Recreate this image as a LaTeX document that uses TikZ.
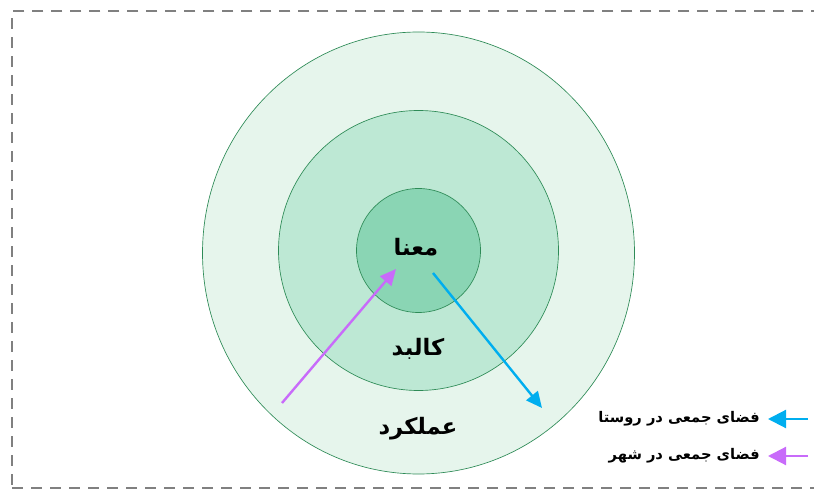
\documentclass[tikz,border=0pt]{standalone}
\usepackage{fontspec}
\newfontfamily\arabicfont[Script=Arabic]{DejaVu Sans}
\TeXXeTstate=1
\usetikzlibrary{arrows.meta,shapes.geometric}
\definecolor{ringA}{HTML}{E6F5EC}
\definecolor{ringB}{HTML}{BDE8D4}
\definecolor{ringC}{HTML}{8AD5B4}
\definecolor{ringline}{HTML}{2E8B57}
\definecolor{arrblue}{HTML}{00AEEF}
\definecolor{arrpurple}{HTML}{C86BFA}
\definecolor{framegray}{HTML}{808080}
\begin{document}
\begin{tikzpicture}[x=0.75pt,y=-0.75pt,
  ring/.style={draw=ringline, line width=0.5pt, inner sep=0pt},
  biglbl/.style={font=\arabicfont\bfseries\fontsize{17}{20}\selectfont, inner sep=0pt},
  leglbl/.style={font=\arabicfont\bfseries\fontsize{11}{13}\selectfont, inner sep=0pt, anchor=east},
  mainarrow/.style={line width=1.8pt, -{Triangle[length=12pt,width=11pt]}},
  legarrow/.style={line width=1.6pt, -{Triangle[length=13.5pt,width=13.5pt]}},
  framestyle/.style={draw=framegray, line width=1.5pt, dash pattern=on 8.25pt off 6pt}
]
\useasboundingbox (0,0) rectangle (814,491);
\clip (0,0) rectangle (814,491);
\node[framestyle, rectangle, anchor=north west, minimum width=617pt, minimum height=357pt, inner sep=0pt] (frame) at (11,10.5) {};
\node[ring, ellipse, fill=ringA, minimum width=324pt, minimum height=331.5pt] (outer) at (418.5,253) {};
\node[ring, circle, fill=ringB, minimum size=210pt] (middle) at (418.5,250.5) {};
\node[ring, circle, fill=ringC, minimum size=93pt] (inner) at (418.5,250.5) {};
\node[biglbl] (mana) at (416,247) {\beginR معنا\endR};
\node[biglbl] (kalbad) at (418,349) {\beginR کالبد\endR};
\node[biglbl] (amalkard) at (418,429) {\beginR عملکرد\endR};
\coordinate (ps) at (282,403);
\coordinate (pe) at (396,269);
\coordinate (bs) at (433,273);
\coordinate (be) at (542,408);
\draw[mainarrow, arrpurple] (ps) -- (pe);
\draw[mainarrow, arrblue] (bs) -- (be);
\node[leglbl] (rusta) at (760,419) {\beginR فضای جمعی در روستا\endR};
\node[leglbl] (shahr) at (760,456) {\beginR فضای جمعی در شهر\endR};
\coordinate (lb) at (808,419);
\coordinate (lp) at (808,456);
\draw[legarrow, arrblue, shorten >=6pt] (lb) -- (rusta.east);
\draw[legarrow, arrpurple, shorten >=6pt] (lp) -- (shahr.east);
\end{tikzpicture}
\end{document}
